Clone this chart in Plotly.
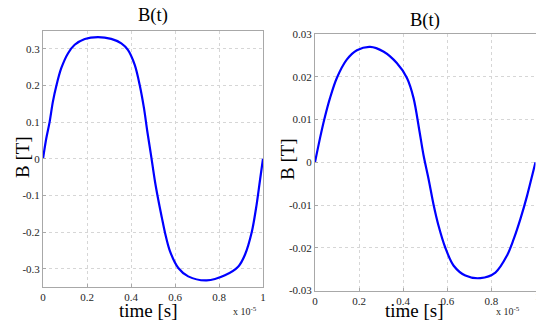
import plotly.graph_objects as go

# ---- data (time in units of 1e-5 s) ----
t_left = [0, 0.015, 0.03, 0.045, 0.061, 0.083, 0.114, 0.144, 0.19, 0.25, 0.31, 0.356,
          0.386, 0.417, 0.44, 0.459, 0.474, 0.491, 0.509, 0.524, 0.54, 0.555, 0.577,
          0.615, 0.66, 0.744, 0.827, 0.888, 0.918, 0.949, 0.971, 0.986, 1.0]
b_left = [0, 0.056, 0.1, 0.156, 0.2, 0.247, 0.288, 0.311, 0.327, 0.332, 0.327, 0.315,
          0.297, 0.256, 0.2, 0.138, 0.075, 0.01, -0.062, -0.112, -0.16, -0.203, -0.252,
          -0.298, -0.321, -0.332, -0.318, -0.294, -0.262, -0.2, -0.125, -0.06, 0]

t_right = [0, 0.023, 0.042, 0.068, 0.099, 0.144, 0.19, 0.25, 0.31, 0.371, 0.417, 0.447,
           0.474, 0.492, 0.515, 0.538, 0.56, 0.591, 0.629, 0.682, 0.75, 0.818, 0.871,
           0.901, 0.932, 0.962, 0.985, 1.0]
b_right = [0, 0.0057, 0.01, 0.015, 0.0197, 0.024, 0.0262, 0.027, 0.0259, 0.0232, 0.0197,
           0.015, 0.0072, 0.0017, -0.0039, -0.01, -0.0148, -0.02, -0.0242, -0.0265,
           -0.0271, -0.0258, -0.0218, -0.018, -0.0132, -0.0078, -0.0031, 0]

x_tickvals = [0, 0.2, 0.4, 0.6, 0.8, 1]
x_ticktext = ["0", "0.2", "0.4", "0.6", "0.8", "1"]
yl_tickvals = [-0.3, -0.2, -0.1, 0, 0.1, 0.2, 0.3]
yl_ticktext = ["-0.3", "-0.2", "-0.1", "0", "0.1", "0.2", "0.3"]
yr_tickvals = [-0.03, -0.02, -0.01, 0, 0.01, 0.02, 0.03]
yr_ticktext = ["-0.03", "-0.02", "-0.01", "0", "0.01", "0.02", "0.03"]

title_text = "B(t)"
xlabel = "time [s]"
ylabel = "B [T]"
exp_text = "x 10<sup>-5</sup>"

W, H = 536, 320
SERIF = "Liberation Serif, Times New Roman, serif"


def px(x):
    return x / W


def py(y):
    return 1 - y / H


fig = go.Figure()
line = dict(color="#0000ff", width=2.2, shape="spline", smoothing=0.9)
fig.add_trace(go.Scatter(x=t_left, y=b_left, mode="lines", line=line,
                         xaxis="x", yaxis="y", showlegend=False, cliponaxis=False))
fig.add_trace(go.Scatter(x=t_right, y=b_right, mode="lines", line=line,
                         xaxis="x2", yaxis="y2", showlegend=False, cliponaxis=False))

grid = dict(showgrid=True, gridcolor="#d6d6d6", griddash="dot", gridwidth=1,
            showline=True, linecolor="#a8a8a8", linewidth=1, mirror=True,
            ticks="inside", ticklen=3, tickcolor="#a8a8a8", automargin=False,
            tickfont=dict(family=SERIF, size=11, color="#262626"), zeroline=False)

fig.update_layout(
    width=W, height=H, margin=dict(l=0, r=0, t=0, b=0, autoexpand=False),
    paper_bgcolor="white", plot_bgcolor="white",
    xaxis=dict(domain=[px(43), px(263)], range=[0, 1], tickvals=x_tickvals,
               ticktext=x_ticktext, anchor="y", **grid),
    yaxis=dict(domain=[py(287), py(30.5)], range=[-0.35, 0.35], tickvals=yl_tickvals,
               ticktext=yl_ticktext, anchor="x", **grid),
    xaxis2=dict(domain=[px(315), px(535.5)], range=[0, 1], tickvals=x_tickvals,
                ticktext=x_ticktext, anchor="y2", **grid),
    yaxis2=dict(domain=[py(290.5), py(34)], range=[-0.03, 0.03], tickvals=yr_tickvals,
                ticktext=yr_ticktext, anchor="x2", **grid),
)

ann = []
def add(text, x, y, size, angle=0, color="#000", xanchor="center"):
    ann.append(dict(text=text, x=px(x), y=py(y), xref="paper", yref="paper",
                    showarrow=False, xanchor=xanchor, yanchor="middle",
                    textangle=angle, font=dict(family=SERIF, size=size, color=color)))

add(title_text, 153, 15.5, 18.5)
add(title_text, 425, 20, 18.5)
add(ylabel, 22, 157, 19, -90)
add(ylabel, 287, 159, 19, -90)
add(xlabel, 148, 310.5, 19)
add(xlabel, 414, 310.5, 19)
add(exp_text, 245, 311, 10, color="#262626")
add(exp_text, 508, 311, 10, color="#262626")
# clipped last tick label of the right x axis, as in the reference
add(x_ticktext[-1], 533, 296, 11, color="#262626", xanchor="left")
fig.update_layout(annotations=ann)

fig.write_html("out.html", config={"displayModeBar": False},
               post_script="document.body.style.margin='0px';document.body.style.overflow='hidden';")
